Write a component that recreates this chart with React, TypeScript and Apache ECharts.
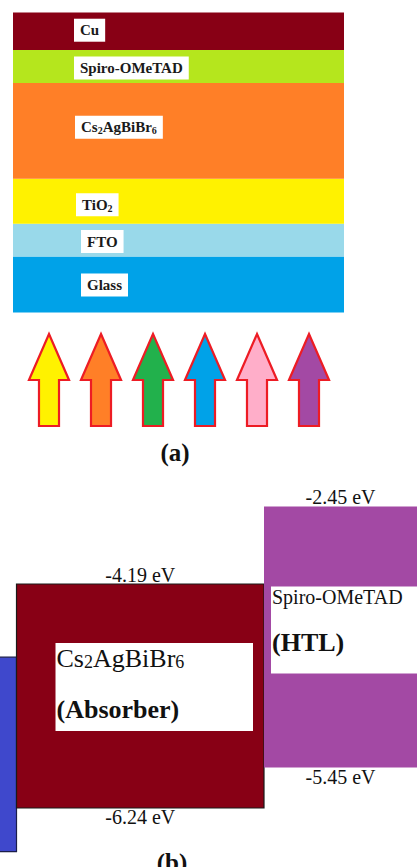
import React, { useEffect, useRef } from 'react';
import * as echarts from 'echarts';

// ---------- (a) device stack, top to bottom ----------
const layerNames = ['Cu', 'Spiro-OMeTAD', 'Cs2AgBiBr6', 'TiO2', 'FTO', 'Glass'];
const layerThickness = [37.5, 33, 96, 45, 33, 56];
const layerLabels = ['Cu', 'Spiro-OMeTAD', 'Cs{s|2}AgBiBr{s|6}', 'TiO{s|2}', 'FTO', 'Glass'];

// ---------- (a) incident light arrows ----------
const lightNames = ['yellow', 'orange', 'green', 'blue', 'pink', 'purple'];
const lightIntensity = [1, 1, 1, 1, 1, 1];

// ---------- (b) band alignment ----------
const bandLayers = ['FTO', 'Cs2AgBiBr6', 'Spiro-OMeTAD'];
const lumoEV: (number | null)[] = [null, -4.19, -2.45];
const homoEV: (number | null)[] = [null, -6.24, -5.45];
// schematic drawn levels (figure is not to scale)
const drawnTop = [-4.86, -4.19, -3.48];
const drawnBottom = [-6.64, -6.24, -5.87];
const bandNames = ['', 'Cs{s|2}AgBiBr{s|6}', 'Spiro-OMeTAD'];
const bandRoles = ['', '(Absorber)', '(HTL)'];

// ---------- styles ----------
const SERIF = "'Liberation Serif', 'Times New Roman', serif";
const layerColors = ['#880015', '#B5E61D', '#FF7F27', '#FFF200', '#99D9EA', '#00A2E8'];
const layerLabelX = [61, 61, 62, 63, 68, 68];
const layerLabelDy = [-1, 1.5, -3.5, 3.5, 1.5, 0.5];
const lightColors = ['#FFF200', '#FF7F27', '#22B14C', '#00A2E8', '#FFAEC9', '#A349A4'];
const bandColors = ['#3F48CC', '#880015', '#A349A4'];
const bandStroke = ['#1b1d4a', '#1a1a1a', 'rgba(0,0,0,0)'];
const bandBox = [
  null,
  { l: 39, r: 11, t: 59, b: 77, nameDy: 15, roleDy: 66, nameSize: 26, roleSize: 26 },
  { l: 7, r: 0, t: 80, b: 94, nameDy: 11, roleDy: 56, nameSize: 20, roleSize: 26 },
];

export default function App() {
  const ref = useRef<HTMLDivElement>(null);
  useEffect(() => {
    if (!ref.current) return;
    const chart = echarts.init(ref.current, undefined, { renderer: 'svg' });
    const total = layerThickness.reduce((a, b) => a + b, 0);

    const stackSeries: any[] = [];
    for (let k = layerNames.length - 1; k >= 0; k--) {
      stackSeries.push({
        type: 'bar',
        name: layerNames[k],
        stack: 'device',
        xAxisIndex: 0,
        yAxisIndex: 0,
        barWidth: '100%',
        data: [layerThickness[k]],
        itemStyle: { color: layerColors[k] },
        label: {
          show: true,
          position: [layerLabelX[k], '50%'],
          offset: [0, layerLabelDy[k]],
          align: 'left',
          verticalAlign: 'middle',
          formatter: layerLabels[k],
          backgroundColor: '#ffffff',
          padding: [3, 6, 3, 6],
          color: '#1a1a1a',
          fontFamily: SERIF,
          fontWeight: 'bold',
          fontSize: 15,
          lineHeight: 17,
          rich: {
            s: { fontSize: 10, fontWeight: 'bold', fontFamily: SERIF, verticalAlign: 'bottom', lineHeight: 12, color: '#1a1a1a' },
          },
        },
      });
    }

    const arrowSeries = {
      type: 'custom',
      xAxisIndex: 1,
      yAxisIndex: 1,
      data: lightIntensity.map((v, i) => [i, v]),
      renderItem: (params: any, api: any) => {
        const i = api.value(0);
        const tip = api.coord([i, api.value(1)]);
        const base = api.coord([i, 0]);
        const w = api.size([1, 0])[0] * 0.77;
        const cx = tip[0];
        const headY = tip[1] + (base[1] - tip[1]) * 0.5;
        const points = [
          [cx, tip[1]],
          [cx + w / 2, headY],
          [cx + w / 4, headY],
          [cx + w / 4, base[1]],
          [cx - w / 4, base[1]],
          [cx - w / 4, headY],
          [cx - w / 2, headY],
        ];
        return {
          type: 'polygon',
          shape: { points },
          style: { fill: lightColors[params.dataIndex], stroke: '#ED1C24', lineWidth: 2.2, lineJoin: 'miter' },
        };
      },
    };

    const bandSeries = {
      type: 'custom',
      xAxisIndex: 2,
      yAxisIndex: 2,
      data: bandLayers.map((_, i) => [i, drawnTop[i], drawnBottom[i]]),
      renderItem: (params: any, api: any) => {
        const idx = params.dataIndex;
        const i = api.value(0);
        const tp = api.coord([i - 0.5, api.value(1)]);
        const bp = api.coord([i + 0.5, api.value(2)]);
        const x0 = tp[0];
        const x1 = bp[0];
        const y0 = tp[1];
        const y1 = bp[1];
        const children: any[] = [
          {
            type: 'rect',
            shape: { x: x0, y: y0, width: x1 - x0, height: y1 - y0 },
            style: { fill: bandColors[idx], stroke: bandStroke[idx], lineWidth: 1.2 },
          },
        ];
        const vx0 = Math.max(x0, 0);
        const vx1 = Math.min(x1, api.getWidth());
        const cx = (vx0 + vx1) / 2;
        const lumo = lumoEV[idx];
        const homo = homoEV[idx];
        if (lumo !== null) {
          children.push({
            type: 'text',
            x: cx,
            y: y0 + 1,
            style: {
              text: lumo.toFixed(2) + ' eV', fill: '#111', fontSize: 20, fontFamily: SERIF,
              align: 'center', verticalAlign: 'bottom', textAlign: 'center', textVerticalAlign: 'bottom',
            },
          });
        }
        if (homo !== null) {
          children.push({
            type: 'text',
            x: cx,
            y: y1 - 1,
            style: {
              text: homo.toFixed(2) + ' eV', fill: '#111', fontSize: 20, fontFamily: SERIF,
              align: 'center', verticalAlign: 'top', textAlign: 'center', textVerticalAlign: 'top',
            },
          });
        }
        const box = bandBox[idx];
        if (box) {
          const bx0 = x0 + box.l;
          const by0 = y0 + box.t;
          children.push({
            type: 'rect',
            shape: { x: bx0, y: by0, width: x1 - box.r - bx0, height: y1 - box.b - by0 },
            style: { fill: '#ffffff' },
          });
          children.push({
            type: 'text',
            x: bx0 + 1,
            y: by0 + box.nameDy,
            style: {
              text: bandNames[idx], fill: '#111', fontSize: box.nameSize, fontFamily: SERIF,
              align: 'left', verticalAlign: 'middle', textAlign: 'left', textVerticalAlign: 'middle',
              rich: {
                s: { fontSize: Math.round(box.nameSize * 0.7), fontFamily: SERIF, fill: '#111', verticalAlign: 'bottom', lineHeight: box.nameSize * 0.9 },
              },
            },
          });
          children.push({
            type: 'text',
            x: bx0 + 1,
            y: by0 + box.roleDy,
            style: {
              text: bandRoles[idx], fill: '#111', fontSize: box.roleSize, fontWeight: 'bold', fontFamily: SERIF,
              align: 'left', verticalAlign: 'middle', textAlign: 'left', textVerticalAlign: 'middle',
            },
          });
        }
        return { type: 'group', children };
      },
    };

    const hiddenAxis = { show: false };
    chart.setOption({
      animation: false,
      backgroundColor: '#ffffff',
      grid: [
        { left: 13, top: 12.5, width: 331, height: 300 },
        { left: 23, top: 334, width: 312, height: 92 },
        { left: 0, top: 399.34, width: 417, height: 464.39 },
      ],
      xAxis: [
        { type: 'category', gridIndex: 0, data: ['device'], ...hiddenAxis },
        { type: 'category', gridIndex: 1, data: lightNames, ...hiddenAxis },
        { type: 'value', gridIndex: 2, min: 0.4333, max: 2.1182, ...hiddenAxis },
      ],
      yAxis: [
        { type: 'value', gridIndex: 0, min: 0, max: total, ...hiddenAxis },
        { type: 'value', gridIndex: 1, min: 0, max: 1, ...hiddenAxis },
        { type: 'value', gridIndex: 2, min: -6.75, max: -2.5, ...hiddenAxis },
      ],
      graphic: [
        {
          type: 'text',
          x: 175,
          y: 452,
          style: {
            text: '(a)', fill: '#111', fontSize: 25, fontWeight: 'bold', fontFamily: SERIF,
            align: 'center', verticalAlign: 'middle', textAlign: 'center', textVerticalAlign: 'middle',
          },
        },
        {
          type: 'text',
          x: 172,
          y: 862,
          style: {
            text: '(b)', fill: '#111', fontSize: 25, fontWeight: 'bold', fontFamily: SERIF,
            align: 'center', verticalAlign: 'middle', textAlign: 'center', textVerticalAlign: 'middle',
          },
        },
      ],
      series: [...stackSeries, arrowSeries, bandSeries],
    });
    return () => chart.dispose();
  }, []);
  return <div ref={ref} style={{ position: 'absolute', left: 0, top: 0, width: 417, height: 867 }} />;
}
